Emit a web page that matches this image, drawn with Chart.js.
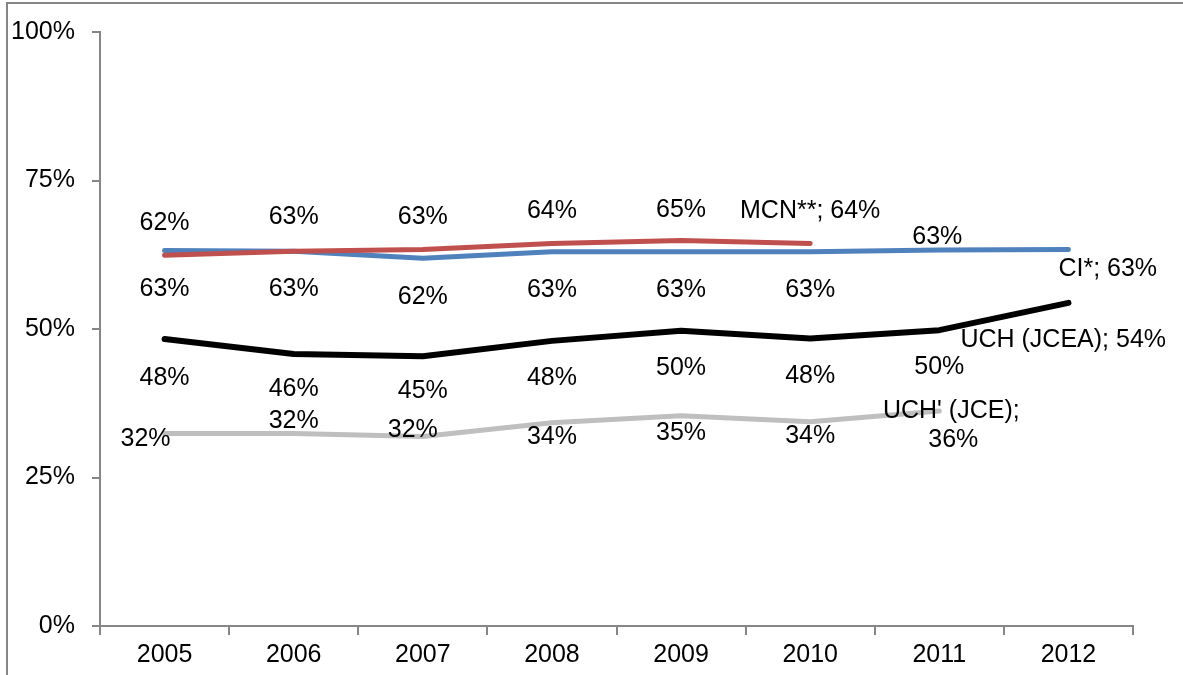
<!DOCTYPE html>
<html>
<head>
<meta charset="utf-8">
<script src="https://cdn.jsdelivr.net/npm/chart.js@4.4.1/dist/chart.umd.min.js"></script>
<style>
  html, body { margin: 0; padding: 0; background: #fff; }
  #wrap { width: 1183px; height: 675px; }
</style>
</head>
<body>
<div id="wrap"><canvas id="chart" width="1183" height="675"></canvas></div>
<script>
// data
const years = ['2005', '2006', '2007', '2008', '2009', '2010', '2011', '2012'];
const mcn = [62.4, 63.1, 63.4, 64.4, 64.9, 64.4, null, null];
const ci = [63.2, 63.1, 61.9, 63.0, 63.0, 63.0, 63.3, 63.4];
const uch = [48.3, 45.8, 45.4, 48.0, 49.7, 48.4, 49.8, 54.4];
const uchJce = [32.4, 32.4, 31.9, 34.2, 35.4, 34.4, 36.2, null];
const yTicks = [0, 25, 50, 75, 100];

const fontFamily = '"Liberation Sans", Arial, sans-serif';
const fontSize = 25;
const axisGray = '#868686';

// where each data label sits relative to its point [dx, dy, align]
const labelSpots = {
  0: [[0, -32], [0, -34], [0, -32], [0, -32], [0, -30], [0, -32, 'center', true]],
  1: [[0, 39], [0, 38], [0, 39], [0, 38], [0, 38], [0, 38], [-2, -13], [-10, 20, 'left', true]],
  2: [[0, 39], [0, 35], [0, 35], [0, 37], [0, 37], [0, 38], [0, 37], [-108, 37, 'left', true]],
  3: [[-19, 6], [0, -12], [-10, -6], [0, 14], [0, 17], [0, 14], [12, 0, 'center', true, true]]
};

const pointLabels = {
  id: 'pointLabels',
  afterDatasetsDraw(chart) {
    const ctx = chart.ctx;
    ctx.save();
    ctx.font = fontSize + 'px ' + fontFamily;
    ctx.fillStyle = '#000';
    ctx.textBaseline = 'middle';
    chart.data.datasets.forEach((ds, i) => {
      const meta = chart.getDatasetMeta(i);
      meta.data.forEach((pt, j) => {
        const v = ds.data[j];
        if (v === null || v === undefined) return;
        const spot = labelSpots[i][j];
        const txt = Math.round(v) + '%';
        ctx.textAlign = spot[2] || 'center';
        const x = pt.x + spot[0];
        const y = pt.y + spot[1];
        if (spot[3] && spot[4]) {
          ctx.fillText(ds.label + ';', x, y);
          ctx.fillText(txt, x + 2, y + 29);
        } else if (spot[3]) {
          ctx.fillText(ds.label + '; ' + txt, x, y);
        } else {
          ctx.fillText(txt, x, y);
        }
      });
    });
    ctx.restore();
  }
};

const outerBorder = {
  id: 'outerBorder',
  beforeDraw(chart) {
    const ctx = chart.ctx;
    ctx.save();
    ctx.fillStyle = '#fff';
    ctx.fillRect(0, 0, chart.width, chart.height);
    ctx.strokeStyle = axisGray;
    ctx.lineWidth = 2;
    ctx.strokeRect(7, 3, chart.width + 20, chart.height + 20);
    ctx.restore();
  }
};

function line(label, data, color, width) {
  return {
    label: label,
    data: data,
    borderColor: color,
    backgroundColor: color,
    borderWidth: width,
    borderCapStyle: 'round',
    borderJoinStyle: 'round',
    pointRadius: 0,
    tension: 0,
    spanGaps: false
  };
}

new Chart(document.getElementById('chart'), {
  type: 'line',
  data: {
    labels: years,
    datasets: [
      line('MCN**', mcn, '#C0504D', 5),
      line('CI*', ci, '#4F81BD', 5),
      line('UCH (JCEA)', uch, '#000000', 6),
      line("UCH' (JCE)", uchJce, '#BFBFBF', 5)
    ]
  },
  options: {
    responsive: false,
    animation: false,
    layout: { padding: { top: 30, right: 50, left: 0, bottom: 0 } },
    plugins: {
      legend: { display: false },
      tooltip: { enabled: false }
    },
    scales: {
      x: {
        offset: true,
        grid: {
          offset: true,
          drawOnChartArea: false,
          tickLength: 9,
          color: axisGray,
          lineWidth: 2
        },
        border: { color: axisGray, width: 2 },
        ticks: {
          color: '#000',
          padding: 5,
          font: { family: fontFamily, size: fontSize }
        },
        afterFit(scale) { scale.height = 49; }
      },
      y: {
        min: 0,
        max: 100,
        afterBuildTicks(scale) { scale.ticks = yTicks.map(v => ({ value: v })); },
        grid: {
          drawOnChartArea: false,
          tickLength: 8,
          color: axisGray,
          lineWidth: 2
        },
        border: { color: axisGray, width: 2 },
        ticks: {
          color: '#000',
          padding: 17,
          callback: v => v + '%',
          font: { family: fontFamily, size: fontSize }
        },
        afterFit(scale) { scale.width = 100; }
      }
    }
  },
  plugins: [outerBorder, pointLabels]
});
</script>
</body>
</html>
